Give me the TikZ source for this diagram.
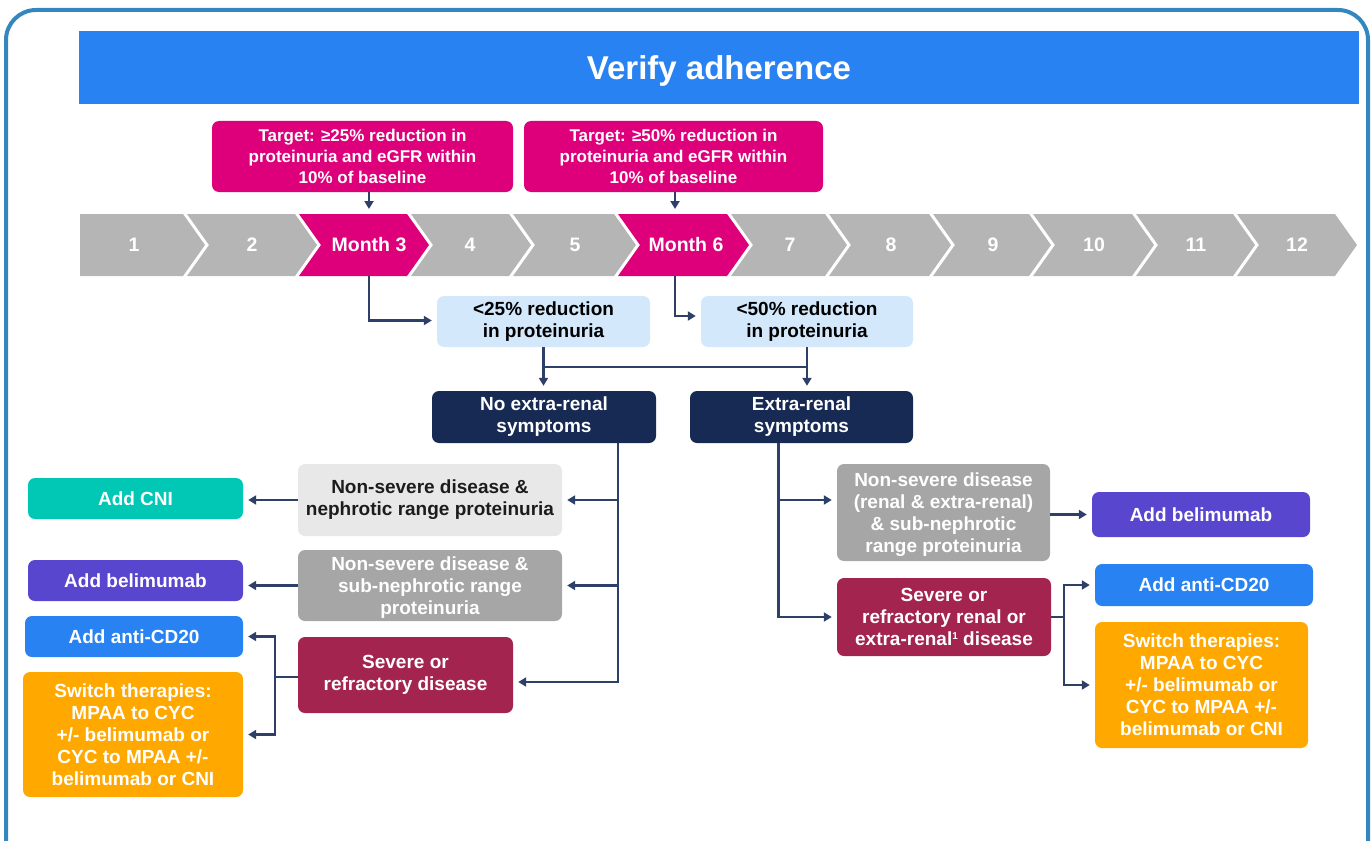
\documentclass[tikz,border=0pt]{standalone}
\usepackage{fontspec}
\setmainfont{Liberation Sans}
\usetikzlibrary{arrows.meta,calc}

\definecolor{frameblue}{HTML}{3486BE}
\definecolor{hdrblue}{HTML}{2882F2}
\definecolor{pinkm}{HTML}{DE007B}
\definecolor{chevgray}{HTML}{B5B5B5}
\definecolor{paleblue}{HTML}{D3E8FB}
\definecolor{navyb}{HTML}{172A53}
\definecolor{palegray}{HTML}{E8E8E8}
\definecolor{tealb}{HTML}{00C8B4}
\definecolor{midgray}{HTML}{A6A6A6}
\definecolor{violetb}{HTML}{5846CE}
\definecolor{orangeb}{HTML}{FFA800}
\definecolor{crimsonb}{HTML}{A3244F}
\definecolor{linkcol}{HTML}{2E4068}
\definecolor{darktext}{HTML}{1C1C1C}

% one step of the month timeline: left edge, right edge, colour
\newcommand\monthchev[3]{%
  \fill[#3] (#1,214) -- (#2,214) -- ({#2+22},245) -- (#2,276) -- (#1,276) -- ({#1+22},245) -- cycle;}
% small footnote mark
\newcommand\fnmark[1]{\raisebox{6.5pt}{\fontsize{10}{10}\selectfont #1}}

\begin{document}
\begin{tikzpicture}[x=1pt,y=-1pt,
  boxtxt/.style={font=\bfseries\fontsize{19}{22}\selectfont},
  card/.style={boxtxt, rounded corners=7pt, inner sep=0pt, align=center, text=white},
  target/.style={card, fill=pinkm, font=\bfseries\fontsize{17}{21}\selectfont},
  chevlbl/.style={text=white, font=\bfseries\fontsize{19.5}{23}\selectfont, inner sep=0pt},
  ln/.style={draw=linkcol, line width=2.3pt},
  arr/.style={ln, -{Triangle[length=8pt,width=9pt]}, shorten >=5pt},
]
\useasboundingbox (0,0) rectangle (1372,840);
\begin{scope}
  \clip (0,0) rectangle (1372,840);
  \draw[frameblue, line width=4pt, rounded corners=30pt] (6,10) rectangle (1368,900);
\end{scope}

% title bar
\node[fill=hdrblue, minimum width=1280pt, minimum height=73pt, inner sep=0pt, text depth=0pt,
      text=white, font=\bfseries\fontsize{33}{38}\selectfont] (hdr) at (719,67.5) {Verify adherence};

% targets
\node[target, minimum width=301pt, minimum height=71pt] (t1) at (362.5,156.5)
  {Target: ≥25\% reduction in\\proteinuria and eGFR within\\10\% of baseline};
\node[target, minimum width=299pt, minimum height=71pt] (t2) at (673.5,156.5)
  {Target: ≥50\% reduction in\\proteinuria and eGFR within\\10\% of baseline};

% timeline
\fill[chevgray] (80,214) -- (183,214) -- (205,245) -- (183,276) -- (80,276) -- cycle;
\monthchev{187}{295}{chevgray}
\monthchev{299}{407}{pinkm}
\monthchev{411}{509}{chevgray}
\monthchev{513}{614}{chevgray}
\monthchev{618}{727}{pinkm}
\monthchev{731}{825}{chevgray}
\monthchev{829}{929}{chevgray}
\monthchev{933}{1029}{chevgray}
\monthchev{1033}{1132}{chevgray}
\monthchev{1136}{1233}{chevgray}
\monthchev{1237}{1335}{chevgray}

\node[chevlbl] (c1) at (134,245) {1};
\node[chevlbl] (c2) at (252,245) {2};
\node[chevlbl] (c3) at (369,245) {Month 3};
\node[chevlbl] (c4) at (470,245) {4};
\node[chevlbl] (c5) at (575,245) {5};
\node[chevlbl] (c6) at (686,245) {Month 6};
\node[chevlbl] (c7) at (790,245) {7};
\node[chevlbl] (c8) at (891,245) {8};
\node[chevlbl] (c9) at (993,245) {9};
\node[chevlbl] (c10) at (1094,245) {10};
\node[chevlbl] (c11) at (1196,245) {11};
\node[chevlbl] (c12) at (1297,245) {12};

\coordinate (m3top) at (369,214);
\coordinate (m3bot) at (369,276);
\coordinate (m6top) at (675,214);
\coordinate (m6bot) at (675,276);

% response checks
\node[card, fill=paleblue, text=black, minimum width=213pt, minimum height=51pt] (b1) at (543.5,321.5)
  {<25\% reduction\\in proteinuria};
\node[card, fill=paleblue, text=black, minimum width=212pt, minimum height=51pt] (b2) at (807,321.5)
  {<50\% reduction\\in proteinuria};

\node[card, fill=navyb, minimum width=224pt, minimum height=52pt] (n1) at (544,417)
  {No extra-renal\\symptoms};
\node[card, fill=navyb, minimum width=223pt, minimum height=52pt] (n2) at (801.5,417)
  {Extra-renal\\symptoms};

% left branch
\node[card, fill=palegray, text=darktext, minimum width=264pt, minimum height=72pt] (g1) at (430,500)
  {Non-severe disease \&\\nephrotic range proteinuria};
\node[card, fill=midgray, text depth=0pt, minimum width=264pt, minimum height=71pt] (g2) at (430,585.5)
  {Non-severe disease \&\\sub-nephrotic range\\proteinuria};
\node[card, fill=crimsonb, minimum width=215pt, minimum height=76pt] (sev1) at (405.5,675)
  {Severe or\\refractory disease};

\node[card, fill=tealb, minimum width=215pt, minimum height=41pt] (cni) at (135.5,498.5) {Add CNI};
\node[card, fill=violetb, minimum width=215pt, minimum height=41pt] (bel1) at (135.5,580.5) {Add belimumab};
\node[card, fill=hdrblue, minimum width=218pt, minimum height=41pt] (cd1) at (134,636.5) {Add anti-CD20};
\node[card, fill=orangeb, minimum width=220pt, minimum height=125pt] (sw1) at (133,734.5)
  {Switch therapies:\\MPAA to CYC\\+/- belimumab or\\CYC to MPAA +/-\\belimumab or CNI};

% right branch
\node[card, fill=midgray, text depth=0pt, minimum width=213pt, minimum height=97pt] (g3) at (943.5,512.5)
  {Non-severe disease\\(renal \& extra-renal)\\\& sub-nephrotic\\range proteinuria};
\node[card, fill=crimsonb, minimum width=214pt, minimum height=78pt] (sev2) at (944,617)
  {Severe or\\refractory renal or\\extra-renal\fnmark{1} disease};

\node[card, fill=violetb, minimum width=218pt, minimum height=45pt] (bel2) at (1201,514.5) {Add belimumab};
\node[card, fill=hdrblue, minimum width=218pt, minimum height=42pt] (cd2) at (1204,585) {Add anti-CD20};
\node[card, fill=orangeb, minimum width=213pt, minimum height=126pt] (sw2) at (1201.5,685)
  {Switch therapies:\\MPAA to CYC\\+/- belimumab or\\CYC to MPAA +/-\\belimumab or CNI};

% connectors: targets to months
\draw[arr] (m3top |- t1.south) -- (m3top);
\draw[arr] (m6top |- t2.south) -- (m6top);
\draw[arr] (m3bot) |- ($(b1.west)+(0,-1)$);
\draw[arr] (m6bot) |- ($(b2.west)+(0,-5.5)$);

% checks to symptom split
\draw[arr] (b1.south) -- (b1.south |- n1.north);
\draw[arr] (b2.south) -- (b2.south |- n2.north);
\draw[ln] ($(b1.south)+(0,20)$) -- ($(b2.south)+(0,20)$);

% left trunk
\coordinate (lt) at ($(n1.south)+(74,0)$);
\coordinate (sev1in) at ($(sev1.east)+(0,7)$);
\draw[arr] (lt) |- (sev1in);
\draw[arr] (lt |- g1.east) -- (g1.east);
\draw[arr] (lt |- g2.east) -- (g2.east);
\draw[arr] (g1.west) -- (cni.east |- g1.west);
\draw[arr] (g2.west) -- (bel1.east |- g2.west);
\coordinate (lb) at ($(sev1.west)+(-23,2)$);
\draw[ln] (sev1.west |- lb) -- (lb);
\draw[arr] (lb) |- (cd1.east);
\draw[arr] (lb) |- (sw1.east);

% right trunk
\coordinate (rt) at ($(n2.south)+(-23,0)$);
\coordinate (g3in) at ($(g3.west)+(0,-12.5)$);
\draw[arr] (rt) |- (sev2.west);
\draw[arr] (rt |- g3in) -- (g3in);
\draw[arr] (g3.east |- bel2.west) -- (bel2.west);
\coordinate (rb) at ($(sev2.east)+(13,0)$);
\draw[ln] (sev2.east) -- (rb);
\draw[arr] (rb) |- (cd2.west);
\draw[arr] (rb) |- (sw2.west);
\end{tikzpicture}
\end{document}
